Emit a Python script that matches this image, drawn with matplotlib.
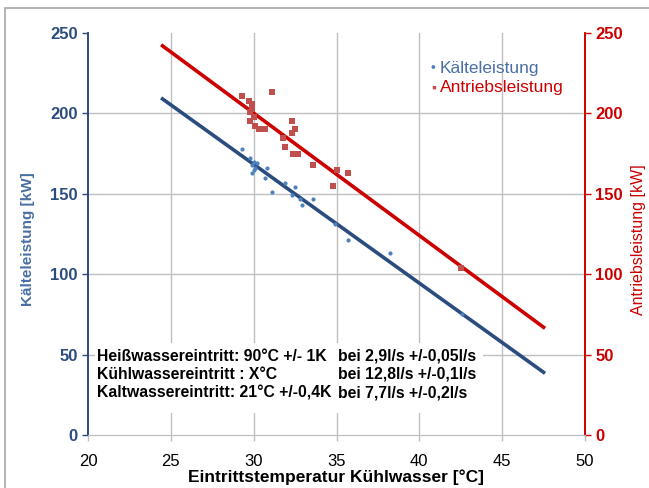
import matplotlib
matplotlib.use("Agg")
import matplotlib.pyplot as plt
from matplotlib.patches import Rectangle

plt.rcParams['font.family'] = ['Liberation Sans', 'DejaVu Sans']

# Data
kaelte_x = [29.3, 29.8, 29.9, 30.0, 30.0, 29.9, 30.1, 30.2, 30.8, 30.7, 31.1, 31.9, 32.5, 32.3, 32.8, 32.9, 33.6, 34.9, 35.7, 38.2, 42.6]
kaelte_y = [178, 172, 168, 165, 170, 163, 166, 169, 166, 160, 151, 157, 154, 149, 147, 143, 147, 131, 121, 113, 75]
antrieb_x = [29.3, 31.1, 29.7, 29.9, 29.8, 29.8, 30.1, 30.3, 30.7, 32.3, 32.5, 32.3, 31.8, 31.9, 32.4, 32.7, 33.6, 35.0, 35.7, 34.8, 42.5, 30.0, 29.9]
antrieb_y = [211, 213, 208, 206, 201, 195, 192, 190, 190, 195, 190, 188, 185, 179, 175, 175, 168, 165, 163, 155, 104, 198, 203]
trend_x = [24.5, 47.5]
kaelte_trend = [209, 39]
antrieb_trend = [242, 67]
x_ticks = [20, 25, 30, 35, 40, 45, 50]
y_ticks = [0, 50, 100, 150, 200, 250]
info_lines = [
    ("Heißwassereintritt: 90°C +/- 1K", "bei 2,9l/s +/-0,05l/s"),
    ("Kühlwassereintritt : X°C", "bei 12,8l/s +/-0,1l/s"),
    ("Kaltwassereintritt: 21°C +/-0,4K", "bei 7,7l/s +/-0,2l/s"),
]

blue_dark = "#2B4C7E"
blue_lab = "#4A6FA5"
blue_pt = "#4F81BD"
red_line = "#CC0000"
red_pt = "#C0504D"
grid_c = "#BFBFBF"

fig = plt.figure(figsize=(6.49, 4.88), dpi=100)
fig.patches.append(Rectangle((5/649, -0.1), 1.0, 1.1 - 8/488, transform=fig.transFigure,
                             fill=False, edgecolor="#A6A6A6", linewidth=1.2))
ax = fig.add_axes([88/649, 53/488, 497/649, 402/488])
ax2 = ax.twinx()

ax.set_xlim(20, 50)
ax.set_ylim(0, 250)
ax2.set_ylim(0, 250)

# grid
for xv in x_ticks[1:-1]:
    ax.axvline(xv, color=grid_c, lw=1.0, zorder=0)
for yv in y_ticks[1:-1]:
    ax.axhline(yv, color=grid_c, lw=1.0, zorder=0)

ax.plot(trend_x, kaelte_trend, color=blue_dark, lw=2.6, zorder=3)
ax.plot(trend_x, antrieb_trend, color=red_line, lw=2.6, zorder=3)
ax.scatter(kaelte_x, kaelte_y, s=9, color=blue_pt, marker='o', zorder=4, linewidths=0)
ax.scatter(antrieb_x, antrieb_y, s=18, color=red_pt, marker='s', zorder=4, linewidths=0)

ax.set_xticks(x_ticks)
ax.set_yticks(y_ticks)
ax2.set_yticks(y_ticks)
ax.tick_params(axis='x', colors=grid_c, labelcolor="black", labelsize=12, length=4, width=1, pad=10)
ax.tick_params(axis='y', colors=blue_dark, labelcolor=blue_dark, labelsize=12, length=4, width=1)
ax2.tick_params(axis='y', colors=red_line, labelcolor=red_line, labelsize=12, length=4, width=1)
for lab in ax.get_yticklabels():
    lab.set_fontweight('bold')
for lab in ax2.get_yticklabels():
    lab.set_fontweight('bold')

for a in (ax, ax2):
    a.spines['top'].set_visible(False)
    a.spines['bottom'].set_color(grid_c)
    a.spines['left'].set_color(blue_dark)
    a.spines['right'].set_color(red_line)
    a.spines['left'].set_linewidth(1.2)
    a.spines['right'].set_linewidth(1.2)

ax.set_xlabel("Eintrittstemperatur Kühlwasser [°C]", fontsize=12.5, fontweight='bold', labelpad=0)
fig.text(28/649, 1 - 239/488, "Kälteleistung [kW]", rotation=90, fontsize=11, fontweight='bold',
         color=blue_lab, ha='center', va='center')
fig.text(639/649, 1 - 240/488, "Antriebsleistung [kW]", rotation=90, fontsize=11.5, color=red_line,
         ha='center', va='center')

# info box
ax.add_patch(Rectangle((20.42, 13.7), 23.4, 43.3, facecolor='white', edgecolor='none', zorder=5))
info_y = [49.1, 37.9, 26.1]
for yv, (a_txt, b_txt) in zip(info_y, info_lines):
    ax.text(20.55, yv, a_txt, fontsize=11.3, fontweight='bold', zorder=6, va='center')
    ax.text(35.1, yv, b_txt, fontsize=11.3, fontweight='bold', zorder=6, va='center')

# legend
ax.text(40.7, 228, "•", color=blue_pt, fontsize=10, va='center')
ax.text(41.24, 228, "Kälteleistung", color=blue_lab, fontsize=12.5, va='center')
ax.text(40.7, 216, "▪", color=red_pt, fontsize=10, va='center')
ax.text(41.24, 216, "Antriebsleistung", color=red_line, fontsize=12.5, va='center')

fig.savefig("out.png", dpi=100)
